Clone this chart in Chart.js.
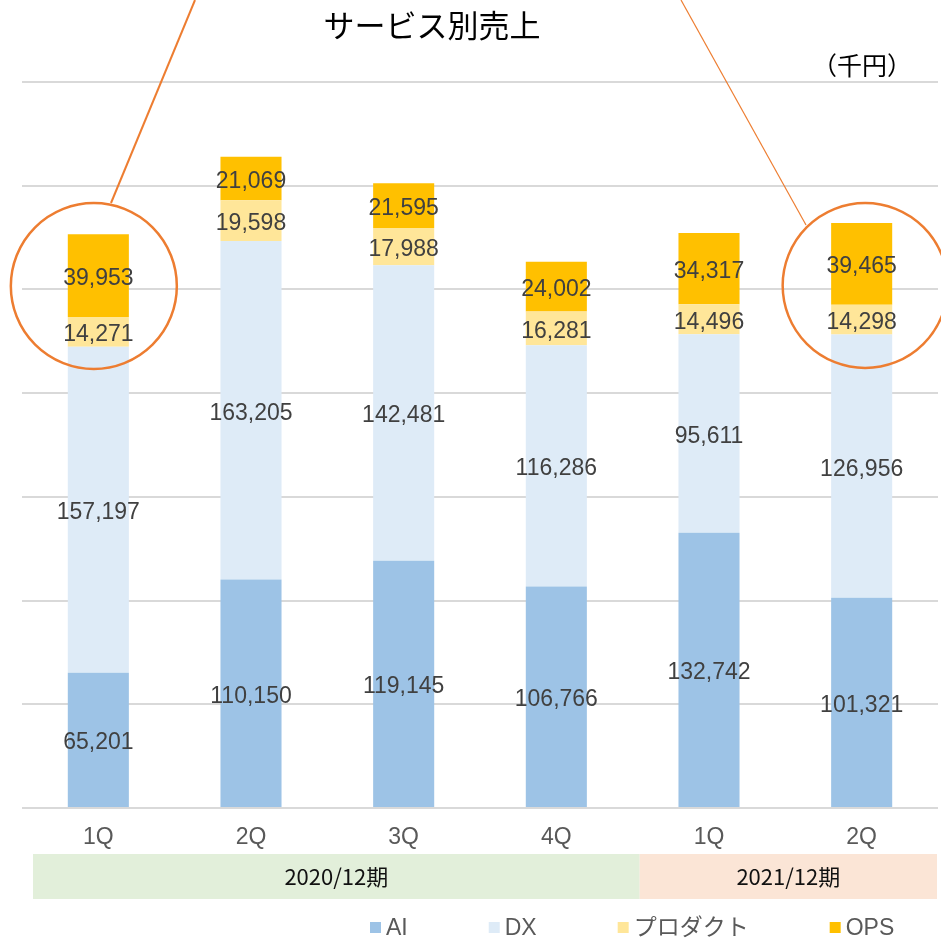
<!DOCTYPE html>
<html>
<head>
<meta charset="utf-8">
<script src="https://cdn.jsdelivr.net/npm/chart.js@4"></script>
<style>
  html, body { margin: 0; padding: 0; background: #fff; }
  #wrap { width: 941px; height: 942px; position: relative; }
</style>
</head>
<body>
<div id="wrap"><canvas id="salesChart"></canvas></div>
<script>
// サービス別売上 (千円)
const categories = ['1Q', '2Q', '3Q', '4Q', '1Q', '2Q'];
const aiValues = [65201, 110150, 119145, 106766, 132742, 101321];
const dxValues = [157197, 163205, 142481, 116286, 95611, 126956];
const productValues = [14271, 19598, 17988, 16281, 14496, 14298];
const opsValues = [39953, 21069, 21595, 24002, 34317, 39465];
const seriesNames = ['AI', 'DX', 'プロダクト', 'OPS'];
const periodLabels = ['2020/12期', '2021/12期'];
const periodCounts = [4, 2];
const highlightIndexes = [0, 5];

const seriesColors = ['#9DC3E6', '#DEEBF7', '#FFE699', '#FFC000'];
const latinFont = "'Liberation Sans', 'Noto Sans CJK JP', sans-serif";
const cjkFont = "'Noto Sans CJK JP', sans-serif";
const accent = '#ED7D31';

// value labels in the middle of each segment
const segmentLabels = {
    id: 'segmentLabels',
    afterDatasetsDraw(chart) {
        const ctx = chart.ctx;
        ctx.save();
        ctx.font = '23px ' + latinFont;
        ctx.fillStyle = '#404040';
        ctx.textAlign = 'center';
        ctx.textBaseline = 'middle';
        chart.data.datasets.forEach((ds, i) => {
            chart.getDatasetMeta(i).data.forEach((bar, j) => {
                const y = (bar.y + bar.base) / 2;
                ctx.fillText(ds.data[j].toLocaleString('en-US'), bar.x, y + 3);
            });
        });
        ctx.restore();
    }
};

// title, unit, period bands, legend and the orange call-outs
const decorations = {
    id: 'decorations',
    afterDraw(chart) {
        const ctx = chart.ctx;
        const area = chart.chartArea;
        const step = (area.right - area.left) / categories.length;
        ctx.save();

        // title
        ctx.fillStyle = '#000';
        ctx.textAlign = 'center';
        ctx.textBaseline = 'middle';
        ctx.font = '31px ' + cjkFont;
        ctx.fillText('サービス別売上', 432, 25);
        ctx.font = '25px ' + cjkFont;
        ctx.fillText('（千円）', 862, 65);

        // period bands under the axis
        const bandColors = ['#E2EFDA', '#FBE5D6'];
        let start = 0;
        periodLabels.forEach((label, k) => {
            const end = start + periodCounts[k];
            const x0 = k === 0 ? area.left + 11 : area.left + step * start + 7;
            const x1 = k === periodLabels.length - 1 ? area.right - 1 : area.left + step * end + 7;
            ctx.fillStyle = bandColors[k];
            ctx.fillRect(x0, 854, x1 - x0, 45);
            ctx.fillStyle = '#111';
            ctx.font = '22px ' + cjkFont;
            ctx.fillText(label, (x0 + x1) / 2, 877);
            start = end;
        });

        // legend
        ctx.font = '23px ' + latinFont;
        ctx.textAlign = 'left';
        let lx = 370;
        chart.data.datasets.forEach(ds => {
            ctx.fillStyle = ds.backgroundColor;
            ctx.fillRect(lx, 922, 11, 11);
            ctx.fillStyle = '#595959';
            ctx.fillText(ds.label, lx + 16, 929);
            lx += 16 + ctx.measureText(ds.label).width + 81;
        });

        // call-out circles around the highlighted quarters
        ctx.strokeStyle = accent;
        const meta = chart.getDatasetMeta(0);
        const leftBar = meta.data[highlightIndexes[0]];
        const rightBar = meta.data[highlightIndexes[1]];
        ctx.lineWidth = 2.5;
        ctx.beginPath();
        ctx.arc(leftBar.x - 4.5, 286, 83, 0, Math.PI * 2);
        ctx.stroke();
        ctx.beginPath();
        ctx.arc(rightBar.x + 3.5, 285.5, 82.5, 0, Math.PI * 2);
        ctx.stroke();

        ctx.lineWidth = 2;
        ctx.beginPath();
        ctx.moveTo(195, 0);
        ctx.lineTo(111, 203);
        ctx.stroke();
        ctx.lineWidth = 1.2;
        ctx.beginPath();
        ctx.moveTo(681, 0);
        ctx.lineTo(806, 225);
        ctx.stroke();

        ctx.restore();
    }
};

const datasetValues = [aiValues, dxValues, productValues, opsValues];

new Chart(document.getElementById('salesChart'), {
    type: 'bar',
    data: {
        labels: categories,
        datasets: seriesNames.map((name, i) => ({
            label: name,
            data: datasetValues[i],
            backgroundColor: seriesColors[i],
            borderWidth: 0,
            categoryPercentage: 1,
            barPercentage: 0.4
        }))
    },
    options: {
        responsive: true,
        maintainAspectRatio: false,
        animation: false,
        layout: {
            padding: { left: 22, right: 3, top: 82, bottom: 0 }
        },
        plugins: {
            legend: { display: false },
            title: { display: false },
            tooltip: { enabled: false }
        },
        scales: {
            x: {
                stacked: true,
                grid: { display: false, drawTicks: false },
                border: { display: false },
                ticks: {
                    color: '#595959',
                    font: { family: latinFont, size: 23 },
                    padding: 16
                },
                afterFit(scale) { scale.height = 134; }
            },
            y: {
                stacked: true,
                min: 0,
                max: 350000,
                ticks: { display: false, stepSize: 50000 },
                grid: { color: '#D9D9D9', lineWidth: 2, drawTicks: false },
                border: { display: false },
                afterFit(scale) { scale.width = 0; }
            }
        }
    },
    plugins: [segmentLabels, decorations]
});
</script>
</body>
</html>
